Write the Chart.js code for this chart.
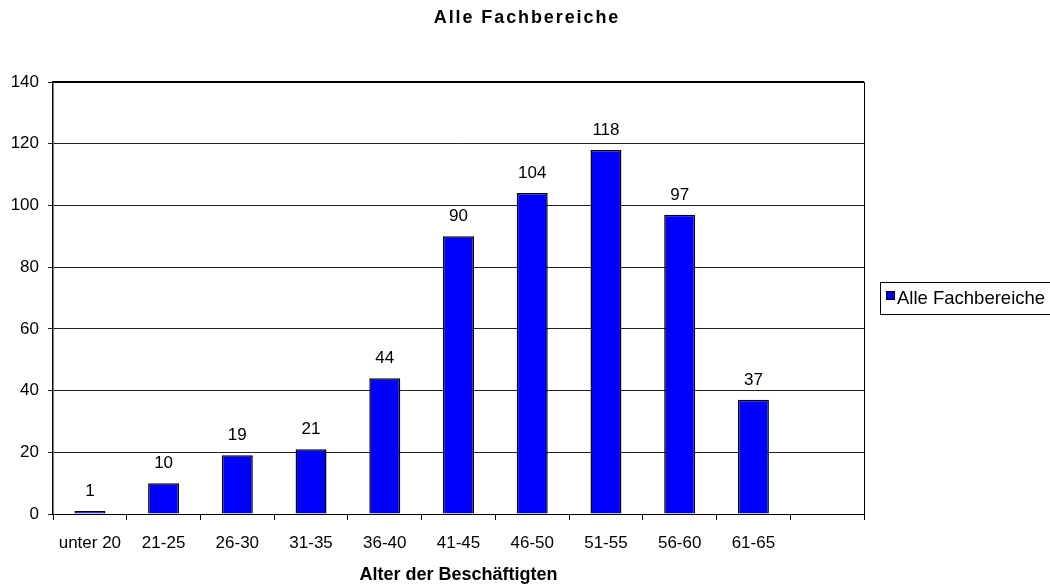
<!DOCTYPE html>
<html>
<head>
<meta charset="utf-8">
<script src="https://cdn.jsdelivr.net/npm/chart.js@4/dist/chart.umd.min.js"></script>
<style>
  body { margin: 0; background: #fff; }
  #chart { display: block; }
</style>
</head>
<body>
<canvas id="chart" width="1050" height="588"></canvas>
<script>
const chartTitle = 'Alle Fachbereiche';
const seriesName = 'Alle Fachbereiche';
const xTitle = 'Alter der Beschäftigten';
const ageGroups = ['unter 20', '21-25', '26-30', '31-35', '36-40', '41-45', '46-50', '51-55', '56-60', '61-65', ''];
const employees = [1, 10, 19, 21, 44, 90, 104, 118, 97, 37, null];
const yTicks = [0, 20, 40, 60, 80, 100, 120, 140];

const FONT = "'Liberation Sans', Arial, sans-serif";

// value above each bar
const valueLabels = {
  id: 'valueLabels',
  afterDatasetsDraw(chart) {
    const ctx = chart.ctx;
    const meta = chart.getDatasetMeta(0);
    ctx.save();
    ctx.font = '17px ' + FONT;
    ctx.fillStyle = '#000';
    ctx.textAlign = 'center';
    ctx.textBaseline = 'alphabetic';
    meta.data.forEach((bar, i) => {
      const v = chart.data.datasets[0].data[i];
      if (v == null) return;
      ctx.fillText(String(v), bar.x, bar.y - 15);
    });
    ctx.restore();
  }
};

// plot frame, header and the boxed legend
const frame = {
  id: 'frame',
  afterDraw(chart) {
    const ctx = chart.ctx;
    const a = chart.chartArea;
    ctx.save();
    ctx.strokeStyle = '#000';
    ctx.lineWidth = 2;
    ctx.beginPath();
    ctx.moveTo(a.left, a.top);
    ctx.lineTo(a.right, a.top);
    ctx.stroke();
    ctx.lineWidth = 1;
    ctx.beginPath();
    ctx.moveTo(Math.round(a.right) + 0.5, a.top);
    ctx.lineTo(Math.round(a.right) + 0.5, a.bottom);
    ctx.stroke();

    // header
    ctx.font = 'bold 18px ' + FONT;
    ctx.letterSpacing = '1.9px';
    ctx.textAlign = 'center';
    ctx.textBaseline = 'alphabetic';
    ctx.fillStyle = '#000';
    ctx.fillText(chartTitle, 527, 23);
    ctx.letterSpacing = '0px';

    // legend
    ctx.strokeStyle = '#000';
    ctx.lineWidth = 1;
    ctx.strokeRect(880.5, 282.5, 200, 32);
    ctx.fillStyle = '#0000ff';
    ctx.fillRect(887, 292, 7, 7);
    ctx.strokeRect(886.5, 291.5, 8, 8);
    ctx.fillStyle = '#000';
    ctx.font = '18.5px ' + FONT;
    ctx.textAlign = 'left';
    ctx.textBaseline = 'middle';
    ctx.fillText(seriesName, 897, 298.5);
    ctx.restore();
  }
};

const chart = new Chart(document.getElementById('chart'), {
  type: 'bar',
  data: {
    labels: ageGroups,
    datasets: [{
      label: seriesName,
      data: employees,
      backgroundColor: '#0000ff',
      borderColor: '#000',
      borderWidth: 1.5,
      borderSkipped: 'start',
      inflateAmount: 0,
      categoryPercentage: 1,
      barPercentage: 0.42
    }]
  },
  options: {
    responsive: false,
    animation: false,
    devicePixelRatio: 1,
    events: [],
    layout: { padding: { top: 82, right: 186, left: 0, bottom: 0 } },
    plugins: {
      legend: { display: false },
      title: { display: false },
      tooltip: { enabled: false }
    },
    scales: {
      x: {
        grid: { drawOnChartArea: false, drawTicks: true, tickLength: 6, color: '#000' },
        border: { color: '#000', width: 1 },
        ticks: { color: '#000', padding: 13, maxRotation: 0, autoSkip: false, font: { family: FONT, size: 17 } },
        title: {
          display: true,
          text: xTitle,
          color: '#000',
          font: { family: FONT, size: 18, weight: 'bold' },
          padding: { top: 0, bottom: 2 }
        },
        afterFit(scale) { scale.height = 74; }
      },
      y: {
        min: 0,
        max: 140,
        afterBuildTicks(scale) { scale.ticks = yTicks.map(v => ({ value: v })); },
        grid: { color: '#222', tickLength: 5, lineWidth: 1 },
        border: { color: '#000', width: 1.5 },
        ticks: { color: '#000', padding: 9, font: { family: FONT, size: 17 } },
        afterFit(scale) { scale.width = 53; }
      }
    }
  },
  plugins: [valueLabels, frame]
});
</script>
</body>
</html>
